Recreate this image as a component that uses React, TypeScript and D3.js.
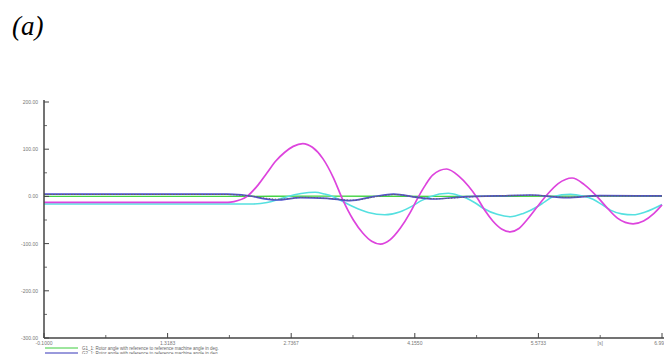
import React from 'react';
import * as d3 from 'd3';

// series: [time s, angle deg]
const g1Green: [number, number][] = [
  [-0.1, 0], [2.0, 0], [3.0, 0.5], [4.5, 0], [6.0, 0.5], [6.9917, 0],
];
const g2Blue: [number, number][] = [
  [-0.1, 5], [2.0, 5], [2.18, 3], [2.57, -7.6], [2.84, -2.7], [3.15, -4], [3.41, -9],
  [3.68, -0.6], [3.91, 5], [4.18, -2], [4.36, -5.5], [4.75, -0.6], [5.1, 1], [5.48, 3],
  [5.9, -2.7], [6.28, 1.5], [6.9917, 1],
];
const g3Gray: [number, number][] = [
  [-0.1, 4], [2.0, 4], [2.2, 2], [2.6, -6], [2.9, -2], [3.2, -5], [3.45, -8],
  [3.7, -1], [3.93, 4], [4.2, -2.5], [4.4, -5], [4.8, -1], [5.5, 2.5],
  [5.9, -2], [6.3, 1], [6.9917, 1],
];
const g4Magenta: [number, number][] = [
  [-0.1, -12.5], [2.01, -12.5], [2.08, -11], [2.23, 0], [2.36, 25], [2.46, 50], [2.56, 75],
  [2.66, 93], [2.76, 106], [2.87, 112], [2.98, 104], [3.1, 80], [3.22, 40], [3.33, -8],
  [3.45, -50], [3.56, -78], [3.66, -95], [3.76, -101], [3.87, -92], [3.99, -67],
  [4.1, -35], [4.19, -3], [4.28, 25], [4.36, 45], [4.52, 58], [4.66, 43], [4.77, 22],
  [4.87, -3], [4.96, -30], [5.05, -52], [5.15, -69], [5.25, -75], [5.35, -68],
  [5.45, -48], [5.56, -22], [5.67, 3], [5.8, 27], [5.96, 39], [6.1, 25], [6.25, -1],
  [6.37, -26], [6.48, -46], [6.57, -55], [6.66, -58], [6.78, -52], [6.9, -36], [6.9917, -18],
];
const g5Cyan: [number, number][] = [
  [-0.1, -16], [2.1, -16], [2.3, -16], [2.46, -13], [2.58, -7], [2.69, -0.6], [2.85, 6],
  [3.01, 8.7], [3.12, 5], [3.22, -0.6], [3.33, -11], [3.45, -22], [3.62, -34], [3.81, -39],
  [3.98, -33], [4.13, -20], [4.23, -9], [4.33, -0.6], [4.54, 6.6], [4.66, 2], [4.75, -4],
  [4.85, -14], [4.94, -25], [5.1, -38], [5.25, -43], [5.4, -36], [5.56, -22], [5.65, -11],
  [5.74, -0.6], [5.94, 4.4], [6.08, 1], [6.2, -6], [6.3, -17], [6.4, -29], [6.53, -37],
  [6.66, -39], [6.8, -33], [6.9917, -17],
];

const xTicks = [-0.1, 1.3183, 2.7367, 4.155, 5.5733, 6.9917];
const xMinor = [0.6092, 2.0275, 3.4458, 4.8642];
const yTicks = [200, 100, 0, -100, -200, -300];
const yMinor = [150, 50, -50, -150, -250];
const legendItems = [
  { label: 'G1_1: Rotor angle with reference to reference machine angle in deg.', color: '#3ccc3c' },
  { label: 'G2_1: Rotor angle with reference to reference machine angle in deg.', color: '#3535b8' },
];

export default function App() {
  const W = 664;
  const H = 354;
  const left = 44;
  const right = 662;
  const top = 102;
  const bottom = 338;

  const x = d3.scaleLinear().domain([-0.1, 6.9917]).range([left, right]);
  const y = d3.scaleLinear().domain([-300, 200]).range([bottom, top]);

  const line = d3
    .line<[number, number]>()
    .x((d) => x(d[0]))
    .y((d) => y(d[1]))
    .curve(d3.curveMonotoneX);

  const labelFont = 'Liberation Sans, Arial, sans-serif';
  const axisColor = '#444';

  return (
    <div style={{ position: 'fixed', left: 0, top: 0 }}>
      <svg width={W} height={H} style={{ display: 'block', background: '#fff' }}>
        <text x={12} y={35} fontFamily="Liberation Serif, Times New Roman, serif" fontStyle="italic" fontSize={27}>
          (a)
        </text>

        {/* curves */}
        <path d={line(g1Green) || ''} fill="none" stroke="#44d444" strokeWidth={1.4} />
        <path d={line(g5Cyan) || ''} fill="none" stroke="#55e0e0" strokeWidth={1.6} />
        <path d={line(g4Magenta) || ''} fill="none" stroke="#dd44dd" strokeWidth={1.7} />
        <path d={line(g2Blue) || ''} fill="none" stroke="#5050d0" strokeWidth={1.7} />
        <path d={line(g3Gray) || ''} fill="none" stroke="#666" strokeWidth={1} strokeDasharray="1.5,1.5" />

        {/* y axis */}
        <line x1={left} x2={left} y1={top - 2} y2={bottom} stroke={axisColor} strokeWidth={1.5} />
        {yTicks.map((t) => (
          <g key={'y' + t}>
            <line x1={left} x2={left + 5} y1={y(t)} y2={y(t)} stroke={axisColor} strokeWidth={1} />
            <text x={left - 6} y={y(t) + 2} textAnchor="end" fontSize={5} fill="#777" fontFamily={labelFont}>
              {t.toFixed(2)}
            </text>
          </g>
        ))}
        {yMinor.map((t) => (
          <line key={'ym' + t} x1={left} x2={left + 3} y1={y(t)} y2={y(t)} stroke={axisColor} strokeWidth={0.8} />
        ))}

        {/* x axis */}
        <line x1={left} x2={W} y1={bottom} y2={bottom} stroke={axisColor} strokeWidth={1.5} />
        {xTicks.map((t) => (
          <g key={'x' + t}>
            <line x1={x(t)} x2={x(t)} y1={bottom} y2={bottom - 5} stroke={axisColor} strokeWidth={1} />
            <text x={x(t)} y={bottom + 7} textAnchor="middle" fontSize={5} fill="#777" fontFamily={labelFont}>
              {t.toFixed(4)}
            </text>
          </g>
        ))}
        {xMinor.map((t) => (
          <line key={'xm' + t} x1={x(t)} x2={x(t)} y1={bottom} y2={bottom - 3} stroke={axisColor} strokeWidth={0.8} />
        ))}
        <line x1={x(6.2825)} x2={x(6.2825)} y1={bottom} y2={bottom - 3} stroke={axisColor} strokeWidth={0.8} />
        <text x={x(6.2825)} y={bottom + 7} textAnchor="middle" fontSize={5} fill="#777" fontFamily={labelFont}>
          [s]
        </text>

        {/* legend */}
        {legendItems.map((it, i) => (
          <g key={it.label}>
            <line x1={45} x2={78} y1={348 + i * 5} y2={348 + i * 5} stroke={it.color} strokeWidth={1} />
            <text x={82} y={349.8 + i * 5} fontSize={4.5} fill="#666" fontFamily={labelFont}>
              {it.label}
            </text>
          </g>
        ))}
      </svg>
    </div>
  );
}
